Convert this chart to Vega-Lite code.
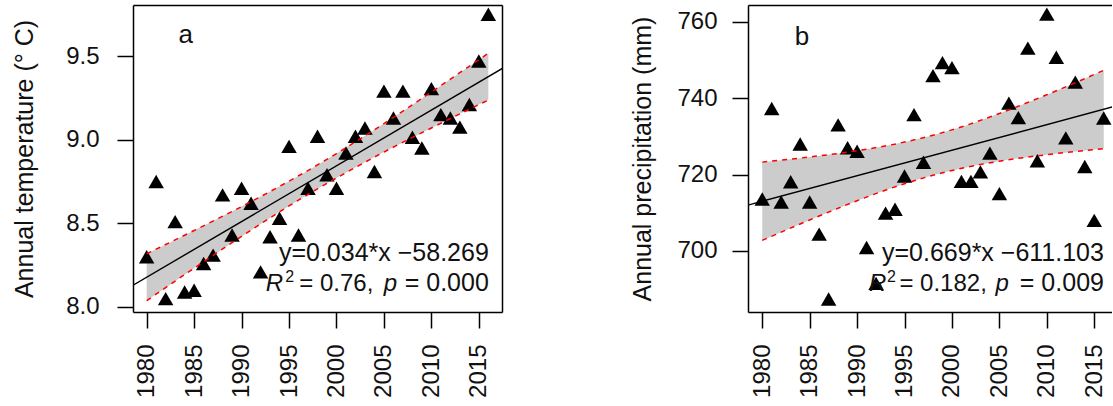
{
  "$schema": "https://vega.github.io/schema/vega-lite/v6.json",
  "background": "white",
  "padding": {"left": 12, "top": 5, "right": 0, "bottom": 0},
  "spacing": 128,
  "config": {
    "font": "Liberation Sans",
    "view": {"stroke": null},
    "axis": {
      "labelFont": "Liberation Sans", "labelFontSize": 24, "labelColor": "#111111",
      "titleFont": "Liberation Sans", "titleFontSize": 25, "titleFontWeight": "normal", "titleColor": "#111111",
      "tickColor": "black", "tickWidth": 1.5, "tickSize": 16,
      "domainColor": "black", "domainWidth": 1.5, "grid": false
    },
    "text": {"font": "Liberation Sans", "color": "#111111"}
  },
  "datasets": {
    "temp": [
      {"year": 1980, "value": 8.30}, {"year": 1981, "value": 8.75}, {"year": 1982, "value": 8.05},
      {"year": 1983, "value": 8.51}, {"year": 1984, "value": 8.09}, {"year": 1985, "value": 8.10},
      {"year": 1986, "value": 8.26}, {"year": 1987, "value": 8.31}, {"year": 1988, "value": 8.67},
      {"year": 1989, "value": 8.43}, {"year": 1990, "value": 8.71}, {"year": 1991, "value": 8.62},
      {"year": 1992, "value": 8.21}, {"year": 1993, "value": 8.42}, {"year": 1994, "value": 8.53},
      {"year": 1995, "value": 8.96}, {"year": 1996, "value": 8.43}, {"year": 1997, "value": 8.71},
      {"year": 1998, "value": 9.02}, {"year": 1999, "value": 8.79}, {"year": 2000, "value": 8.71},
      {"year": 2001, "value": 8.92}, {"year": 2002, "value": 9.02}, {"year": 2003, "value": 9.07},
      {"year": 2004, "value": 8.81}, {"year": 2005, "value": 9.29}, {"year": 2006, "value": 9.13},
      {"year": 2007, "value": 9.29}, {"year": 2008, "value": 9.015}, {"year": 2009, "value": 8.95},
      {"year": 2010, "value": 9.305}, {"year": 2011, "value": 9.15}, {"year": 2012, "value": 9.13},
      {"year": 2013, "value": 9.075}, {"year": 2014, "value": 9.21}, {"year": 2015, "value": 9.47},
      {"year": 2016, "value": 9.75}
    ],
    "tempBand": [
      {"year": 1980, "lower": 8.038, "upper": 8.318},
      {"year": 1985, "lower": 8.232, "upper": 8.457},
      {"year": 1990, "lower": 8.422, "upper": 8.600},
      {"year": 1995, "lower": 8.604, "upper": 8.752},
      {"year": 1998, "lower": 8.706, "upper": 8.849},
      {"year": 2000, "lower": 8.771, "upper": 8.917},
      {"year": 2005, "lower": 8.926, "upper": 9.096},
      {"year": 2010, "lower": 9.070, "upper": 9.285},
      {"year": 2016, "lower": 9.237, "upper": 9.517}
    ],
    "tempFit": [
      {"year": 1978, "fit": 8.111}, {"year": 2018, "fit": 9.443}
    ],
    "prec": [
      {"year": 1980, "value": 713.6}, {"year": 1981, "value": 737.3}, {"year": 1982, "value": 712.8},
      {"year": 1983, "value": 718.1}, {"year": 1984, "value": 728.0}, {"year": 1985, "value": 712.8},
      {"year": 1986, "value": 704.4}, {"year": 1987, "value": 687.4}, {"year": 1988, "value": 733.0},
      {"year": 1989, "value": 727.0}, {"year": 1990, "value": 726.1}, {"year": 1991, "value": 700.9},
      {"year": 1992, "value": 691.5}, {"year": 1993, "value": 709.9}, {"year": 1994, "value": 710.9},
      {"year": 1995, "value": 719.6}, {"year": 1996, "value": 735.7}, {"year": 1997, "value": 723.2},
      {"year": 1998, "value": 745.9}, {"year": 1999, "value": 749.3}, {"year": 2000, "value": 748.0},
      {"year": 2001, "value": 718.2}, {"year": 2002, "value": 718.2}, {"year": 2003, "value": 720.7},
      {"year": 2004, "value": 725.6}, {"year": 2005, "value": 715.0}, {"year": 2006, "value": 738.7},
      {"year": 2007, "value": 734.9}, {"year": 2008, "value": 753.1}, {"year": 2009, "value": 723.6},
      {"year": 2010, "value": 762.0}, {"year": 2011, "value": 750.7}, {"year": 2012, "value": 729.6},
      {"year": 2013, "value": 744.2}, {"year": 2014, "value": 722.1}, {"year": 2015, "value": 708.0},
      {"year": 2016, "value": 734.8}
    ],
    "precBand": [
      {"year": 1980, "lower": 702.75, "upper": 723.25},
      {"year": 1985, "lower": 708.1, "upper": 724.6},
      {"year": 1990, "lower": 713.15, "upper": 726.23},
      {"year": 1995, "lower": 717.6, "upper": 728.5},
      {"year": 1998, "lower": 719.8, "upper": 730.3},
      {"year": 2000, "lower": 721.06, "upper": 731.7},
      {"year": 2005, "lower": 723.5, "upper": 736.0},
      {"year": 2010, "lower": 725.2, "upper": 740.9},
      {"year": 2016, "lower": 726.8, "upper": 747.3}
    ],
    "precFit": [
      {"year": 1978, "fit": 711.66}, {"year": 2018, "fit": 738.42}
    ]
  },
  "hconcat": [
    {
      "width": 369,
      "height": 307,
      "layer": [
        {
          "data": {"name": "tempBand"},
          "mark": {"type": "area", "color": "#cccccc", "interpolate": "monotone"},
          "encoding": {
            "x": {"field": "year", "type": "quantitative",
                  "scale": {"domain": [1978.56, 2017.44], "nice": false, "zero": false},
                  "axis": {"orient": "bottom", "values": [1980, 1985, 1990, 1995, 2000, 2005, 2010, 2015], "format": "d",
                           "labelAngle": 270, "labelPadding": 16, "title": null, "labelFlush": false, "labelOverlap": false}},
            "y": {"field": "lower", "type": "quantitative",
                  "scale": {"domain": [7.97, 9.805], "nice": false, "zero": false},
                  "axis": {"orient": "left", "values": [8.0, 8.5, 9.0, 9.5], "format": ".1f", "labelPadding": 18,
                           "titlePadding": 28, "title": "Annual temperature (° C)"}},
            "y2": {"field": "upper"}
          }
        },
        {
          "data": {"name": "temp"},
          "mark": {"type": "point", "shape": "triangle-up", "filled": true, "size": 240, "color": "black", "opacity": 1},
          "encoding": {
            "x": {"field": "year", "type": "quantitative",
                  "axis": {"orient": "top", "labels": false, "ticks": false, "title": null, "domain": true}},
            "y": {"field": "value", "type": "quantitative",
                  "axis": {"orient": "right", "labels": false, "ticks": false, "title": null, "domain": true}}
          }
        },
        {
          "data": {"name": "tempBand"},
          "mark": {"type": "line", "color": "#ff0000", "strokeDash": [5, 5], "strokeWidth": 1.5, "interpolate": "monotone"},
          "encoding": {
            "x": {"field": "year", "type": "quantitative", "axis": null},
            "y": {"field": "lower", "type": "quantitative", "axis": null}
          }
        },
        {
          "data": {"name": "tempBand"},
          "mark": {"type": "line", "color": "#ff0000", "strokeDash": [5, 5], "strokeWidth": 1.5, "interpolate": "monotone"},
          "encoding": {
            "x": {"field": "year", "type": "quantitative", "axis": null},
            "y": {"field": "upper", "type": "quantitative", "axis": null}
          }
        },
        {
          "data": {"name": "tempFit"},
          "mark": {"type": "line", "color": "black", "strokeWidth": 1.4, "clip": true},
          "encoding": {
            "x": {"field": "year", "type": "quantitative", "axis": null},
            "y": {"field": "fit", "type": "quantitative", "axis": null}
          }
        },
        {
          "data": {"values": [{"t": "a"}]},
          "mark": {"type": "text", "fontSize": 26, "align": "center", "baseline": "alphabetic"},
          "encoding": {
            "x": {"datum": 1984.11, "type": "quantitative", "axis": null},
            "y": {"datum": 9.575, "type": "quantitative", "axis": null},
            "text": {"field": "t"}
          }
        },
        {
          "data": {"values": [{"t": "y=0.034*x −58.269"}]},
          "mark": {"type": "text", "fontSize": 25, "align": "right", "baseline": "alphabetic"},
          "encoding": {
            "x": {"datum": 2016.05, "type": "quantitative", "axis": null},
            "y": {"datum": 8.275, "type": "quantitative", "axis": null},
            "text": {"field": "t"}
          }
        },
        {
          "data": {"values": [{"t": "R"}]},
          "mark": {"type": "text", "fontSize": 24, "fontStyle": "italic", "align": "left", "baseline": "alphabetic"},
          "encoding": {
            "x": {"datum": 1992.54, "type": "quantitative", "axis": null},
            "y": {"datum": 8.096, "type": "quantitative", "axis": null},
            "text": {"field": "t"}
          }
        },
        {
          "data": {"values": [{"t": "2"}]},
          "mark": {"type": "text", "fontSize": 16, "align": "left", "baseline": "alphabetic"},
          "encoding": {
            "x": {"datum": 1994.60, "type": "quantitative", "axis": null},
            "y": {"datum": 8.150, "type": "quantitative", "axis": null},
            "text": {"field": "t"}
          }
        },
        {
          "data": {"values": [{"t": "= 0.76,"}]},
          "mark": {"type": "text", "fontSize": 24, "align": "left", "baseline": "alphabetic"},
          "encoding": {
            "x": {"datum": 1996.08, "type": "quantitative", "axis": null},
            "y": {"datum": 8.096, "type": "quantitative", "axis": null},
            "text": {"field": "t"}
          }
        },
        {
          "data": {"values": [{"t": "p"}]},
          "mark": {"type": "text", "fontSize": 24, "fontStyle": "italic", "align": "left", "baseline": "alphabetic"},
          "encoding": {
            "x": {"datum": 2004.98, "type": "quantitative", "axis": null},
            "y": {"datum": 8.096, "type": "quantitative", "axis": null},
            "text": {"field": "t"}
          }
        },
        {
          "data": {"values": [{"t": "= 0.000"}]},
          "mark": {"type": "text", "fontSize": 25, "align": "right", "baseline": "alphabetic"},
          "encoding": {
            "x": {"datum": 2016.05, "type": "quantitative", "axis": null},
            "y": {"datum": 8.096, "type": "quantitative", "axis": null},
            "text": {"field": "t"}
          }
        }
      ]
    },
    {
      "width": 364,
      "height": 307,
      "layer": [
        {
          "data": {"name": "precBand"},
          "mark": {"type": "area", "color": "#cccccc", "interpolate": "monotone"},
          "encoding": {
            "x": {"field": "year", "type": "quantitative",
                  "scale": {"domain": [1978.5, 2016.87], "nice": false, "zero": false},
                  "axis": {"orient": "bottom", "values": [1980, 1985, 1990, 1995, 2000, 2005, 2010, 2015], "format": "d",
                           "labelAngle": 270, "labelPadding": 16, "title": null, "labelFlush": false, "labelOverlap": false}},
            "y": {"field": "lower", "type": "quantitative",
                  "scale": {"domain": [684.0, 764.4], "nice": false, "zero": false},
                  "axis": {"orient": "left", "values": [700, 720, 740, 760], "labelPadding": 15,
                           "titlePadding": 21, "title": "Annual precipitation (mm)"}},
            "y2": {"field": "upper"}
          }
        },
        {
          "data": {"name": "prec"},
          "mark": {"type": "point", "shape": "triangle-up", "filled": true, "size": 240, "color": "black", "opacity": 1},
          "encoding": {
            "x": {"field": "year", "type": "quantitative",
                  "axis": {"orient": "top", "labels": false, "ticks": false, "title": null, "domain": true}},
            "y": {"field": "value", "type": "quantitative",
                  "axis": {"orient": "right", "labels": false, "ticks": false, "title": null, "domain": false}}
          }
        },
        {
          "data": {"name": "precBand"},
          "mark": {"type": "line", "color": "#ff0000", "strokeDash": [5, 5], "strokeWidth": 1.5, "interpolate": "monotone"},
          "encoding": {
            "x": {"field": "year", "type": "quantitative", "axis": null},
            "y": {"field": "lower", "type": "quantitative", "axis": null}
          }
        },
        {
          "data": {"name": "precBand"},
          "mark": {"type": "line", "color": "#ff0000", "strokeDash": [5, 5], "strokeWidth": 1.5, "interpolate": "monotone"},
          "encoding": {
            "x": {"field": "year", "type": "quantitative", "axis": null},
            "y": {"field": "upper", "type": "quantitative", "axis": null}
          }
        },
        {
          "data": {"name": "precFit"},
          "mark": {"type": "line", "color": "black", "strokeWidth": 1.4, "clip": true},
          "encoding": {
            "x": {"field": "year", "type": "quantitative", "axis": null},
            "y": {"field": "fit", "type": "quantitative", "axis": null}
          }
        },
        {
          "data": {"values": [{"t": "b"}]},
          "mark": {"type": "text", "fontSize": 26, "align": "center", "baseline": "alphabetic"},
          "encoding": {
            "x": {"datum": 1984.18, "type": "quantitative", "axis": null},
            "y": {"datum": 753.98, "type": "quantitative", "axis": null},
            "text": {"field": "t"}
          }
        },
        {
          "data": {"values": [{"t": "y=0.669*x −611.103"}]},
          "mark": {"type": "text", "fontSize": 25, "align": "right", "baseline": "alphabetic"},
          "encoding": {
            "x": {"datum": 2016.02, "type": "quantitative", "axis": null},
            "y": {"datum": 697.38, "type": "quantitative", "axis": null},
            "text": {"field": "t"}
          }
        },
        {
          "data": {"values": [{"t": "R"}]},
          "mark": {"type": "text", "fontSize": 24, "fontStyle": "italic", "align": "left", "baseline": "alphabetic"},
          "encoding": {
            "x": {"datum": 1991.25, "type": "quantitative", "axis": null},
            "y": {"datum": 689.53, "type": "quantitative", "axis": null},
            "text": {"field": "t"}
          }
        },
        {
          "data": {"values": [{"t": "2"}]},
          "mark": {"type": "text", "fontSize": 16, "align": "left", "baseline": "alphabetic"},
          "encoding": {
            "x": {"datum": 1993.15, "type": "quantitative", "axis": null},
            "y": {"datum": 691.89, "type": "quantitative", "axis": null},
            "text": {"field": "t"}
          }
        },
        {
          "data": {"values": [{"t": "= 0.182,"}]},
          "mark": {"type": "text", "fontSize": 24, "align": "left", "baseline": "alphabetic"},
          "encoding": {
            "x": {"datum": 1994.46, "type": "quantitative", "axis": null},
            "y": {"datum": 689.53, "type": "quantitative", "axis": null},
            "text": {"field": "t"}
          }
        },
        {
          "data": {"values": [{"t": "p"}]},
          "mark": {"type": "text", "fontSize": 24, "fontStyle": "italic", "align": "left", "baseline": "alphabetic"},
          "encoding": {
            "x": {"datum": 2004.58, "type": "quantitative", "axis": null},
            "y": {"datum": 689.53, "type": "quantitative", "axis": null},
            "text": {"field": "t"}
          }
        },
        {
          "data": {"values": [{"t": "= 0.009"}]},
          "mark": {"type": "text", "fontSize": 25, "align": "right", "baseline": "alphabetic"},
          "encoding": {
            "x": {"datum": 2016.02, "type": "quantitative", "axis": null},
            "y": {"datum": 689.53, "type": "quantitative", "axis": null},
            "text": {"field": "t"}
          }
        }
      ]
    }
  ]
}
